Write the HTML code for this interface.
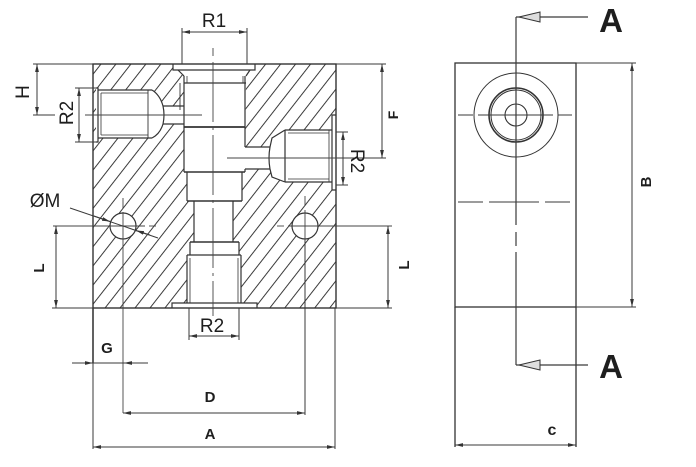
<!DOCTYPE html>
<html><head><meta charset="utf-8">
<style>
html,body{margin:0;padding:0;background:#fff;}
svg{display:block;}
text{font-family:"Liberation Sans",sans-serif;fill:#1e1e1e;}
</style></head>
<body>
<svg width="696" height="467" viewBox="0 0 696 467" xmlns="http://www.w3.org/2000/svg">
<defs>
<pattern id="h" patternUnits="userSpaceOnUse" width="11.8" height="40" patternTransform="rotate(38)">
<line x1="1" y1="-5" x2="1" y2="45" stroke="#3a3a3a" stroke-width="1"/>
</pattern>
<marker id="ar" markerUnits="userSpaceOnUse" viewBox="0 -3 10 6" refX="8" refY="0" markerWidth="10" markerHeight="6" orient="auto-start-reverse">
<path d="M0,-1.9 L8,0 L0,1.9 Z" fill="#333"/>
</marker>
</defs>

<g stroke="#333" stroke-width="1.2" fill="none">
<!-- hatched block -->
<rect x="93" y="64" width="243" height="244" fill="url(#h)" stroke="none"/>

<!-- white bores -->
<g fill="#fff" stroke="none">
<polygon points="173,64 255,64 255,70 246,76 245,172 242,172 242,201 233,201 233,242 239,242 239,255 241,255 241,303 257,303 257,308 172,308 172,303 187,303 187,255 190,255 190,242 194,242 194,201 187,201 187,172 184,172 184,76 173,70"/>
<polygon points="96,88 98,88 98,90 152,90 160,95 163,106 185,106 185,124 163,124 160,134 152,138 98,138 98,142 96,142"/>
<polygon points="336,115 332,115 332,130 285,130 272,138 270,147 244,147 244,169 270,169 272,177 285,182 332,182 332,190 336,190"/>
<circle cx="123" cy="226" r="13"/>
<circle cx="305" cy="226" r="13"/>
</g>

<!-- block outline -->
<rect x="93" y="64" width="243" height="244" stroke-width="1.4"/>

<!-- top port -->
<polyline points="173,64 173,70 255,70 255,64"/>
<line x1="178" y1="70" x2="184" y2="76"/>
<line x1="250" y1="70" x2="246" y2="76"/>
<line x1="184" y1="76" x2="184" y2="172"/>
<line x1="245" y1="76" x2="245" y2="147"/>
<line x1="245" y1="169" x2="245" y2="172"/>
<line x1="187" y1="76" x2="187" y2="83" stroke-width="0.8"/>
<line x1="243" y1="76" x2="243" y2="83" stroke-width="0.8"/>
<line x1="184" y1="83" x2="246" y2="83"/>
<line x1="184" y1="127" x2="245" y2="127" stroke-width="1.8"/>
<line x1="180" y1="83" x2="180" y2="110" stroke-width="0.9"/>
<line x1="184" y1="172" x2="245" y2="172" stroke-width="1.6"/>
<line x1="187" y1="172" x2="187" y2="201"/>
<line x1="242" y1="172" x2="242" y2="201"/>
<line x1="187" y1="201" x2="242" y2="201" stroke-width="1.5"/>
<line x1="194" y1="201" x2="194" y2="242"/>
<line x1="233" y1="201" x2="233" y2="242"/>
<line x1="190" y1="242" x2="239" y2="242" stroke-width="1.5"/>
<line x1="190" y1="242" x2="190" y2="255"/>
<line x1="239" y1="242" x2="239" y2="255"/>
<line x1="187" y1="255" x2="241" y2="255"/>
<line x1="187" y1="255" x2="187" y2="303"/>
<line x1="241" y1="255" x2="241" y2="303"/>
<line x1="190" y1="258" x2="190" y2="303" stroke-width="0.8"/>
<line x1="238" y1="258" x2="238" y2="303" stroke-width="0.8"/>
<polyline points="172,308 172,303 257,303 257,308"/>

<!-- left port -->
<polyline points="96,88 98,88 98,142 96,142"/>
<line x1="98" y1="90" x2="152" y2="90"/>
<line x1="98" y1="138" x2="152" y2="138"/>
<line x1="101" y1="93" x2="148" y2="93" stroke-width="0.8"/>
<line x1="101" y1="135" x2="148" y2="135" stroke-width="0.8"/>
<line x1="101" y1="93" x2="101" y2="135" stroke-width="0.8"/>
<line x1="148" y1="90" x2="148" y2="138" stroke-width="0.9"/>
<path d="M152,90 Q160,95 163,106 M152,138 Q160,134 163,124 M163,106 Q165,115 163,124"/>
<line x1="163" y1="106" x2="184" y2="106"/>
<line x1="163" y1="124" x2="184" y2="124"/>

<!-- right port -->
<polyline points="336,115 332,115 332,190 336,190"/>
<line x1="285" y1="130" x2="332" y2="130"/>
<line x1="285" y1="182" x2="332" y2="182"/>
<line x1="288" y1="133" x2="329" y2="133" stroke-width="0.8"/>
<line x1="288" y1="179" x2="329" y2="179" stroke-width="0.8"/>
<line x1="285" y1="130" x2="285" y2="182"/>
<line x1="329" y1="130" x2="329" y2="182" stroke-width="0.8"/>
<path d="M285,130 L272,138 L270,147 M285,182 L272,177 L270,169 M270,147 Q268,158 270,169"/>
<line x1="245" y1="147" x2="270" y2="147"/>
<line x1="245" y1="169" x2="270" y2="169"/>

<!-- holes -->
<circle cx="123" cy="226" r="13"/>
<circle cx="305" cy="226" r="13"/>
</g>

<!-- centerlines main -->
<g stroke="#444" stroke-width="0.9" fill="none">
<line x1="213" y1="48" x2="213" y2="56"/>
<line x1="213" y1="62" x2="213" y2="316" stroke-dasharray="60,5,3,5"/>
<line x1="85" y1="115" x2="202" y2="115"/>
<line x1="227" y1="158" x2="337" y2="158"/>
<line x1="123" y1="198" x2="123" y2="208"/>
<line x1="123" y1="212" x2="123" y2="413"/>
<line x1="305" y1="196" x2="305" y2="206"/>
<line x1="305" y1="210" x2="305" y2="240"/>
<line x1="53" y1="226" x2="145" y2="226"/>
<line x1="149" y1="226" x2="156" y2="226"/>
<line x1="277" y1="226" x2="284" y2="226"/>
<line x1="288" y1="226" x2="392" y2="226"/>
</g>

<!-- dimensions -->
<g stroke="#3a3a3a" stroke-width="1" fill="none">
<!-- R1 -->
<line x1="182" y1="28" x2="182" y2="64"/>
<line x1="247" y1="28" x2="247" y2="64"/>
<line x1="182" y1="32" x2="247" y2="32" marker-start="url(#ar)" marker-end="url(#ar)"/>
<!-- top ext -->
<line x1="33" y1="64" x2="93" y2="64"/>
<line x1="336" y1="64" x2="386" y2="64"/>
<!-- H -->
<line x1="37" y1="64" x2="37" y2="115" marker-start="url(#ar)" marker-end="url(#ar)"/>
<line x1="33" y1="115" x2="55" y2="115"/>
<!-- R2 left -->
<line x1="75" y1="88" x2="96" y2="88"/>
<line x1="75" y1="142" x2="96" y2="142"/>
<line x1="79" y1="88" x2="79" y2="142" marker-start="url(#ar)" marker-end="url(#ar)"/>
<!-- R2 right -->
<line x1="336" y1="132" x2="348" y2="132"/>
<line x1="336" y1="185" x2="348" y2="185"/>
<line x1="343" y1="132" x2="343" y2="185" marker-start="url(#ar)" marker-end="url(#ar)"/>
<!-- F -->
<line x1="382" y1="64" x2="382" y2="158" marker-start="url(#ar)" marker-end="url(#ar)"/>
<line x1="337" y1="158" x2="386" y2="158"/>
<!-- bottom ext -->
<line x1="52" y1="308" x2="93" y2="308"/>
<line x1="336" y1="308" x2="392" y2="308"/>
<!-- L left -->
<line x1="56" y1="226" x2="56" y2="308" marker-start="url(#ar)" marker-end="url(#ar)"/>
<!-- L right -->
<line x1="388" y1="226" x2="388" y2="308" marker-start="url(#ar)" marker-end="url(#ar)"/>
<!-- R2 bottom -->
<line x1="189" y1="308" x2="189" y2="340"/>
<line x1="239" y1="308" x2="239" y2="340"/>
<line x1="189" y1="336" x2="239" y2="336" marker-start="url(#ar)" marker-end="url(#ar)"/>
<!-- vertical ext -->
<line x1="93" y1="308" x2="93" y2="363" stroke-width="1.6"/>
<line x1="93" y1="363" x2="93" y2="449"/>
<line x1="335" y1="308" x2="335" y2="449"/>
<line x1="305" y1="240" x2="305" y2="415"/>
<!-- G -->
<line x1="72" y1="363" x2="93" y2="363" marker-end="url(#ar)"/>
<line x1="93" y1="363" x2="124" y2="363"/>
<line x1="148" y1="363" x2="124" y2="363" marker-end="url(#ar)"/>
<!-- D -->
<line x1="123" y1="413" x2="305" y2="413" marker-start="url(#ar)" marker-end="url(#ar)"/>
<!-- A -->
<line x1="93" y1="447" x2="335" y2="447" marker-start="url(#ar)" marker-end="url(#ar)"/>
<!-- OM leader -->
<line x1="70" y1="208" x2="158" y2="238"/>
<line x1="94" y1="216" x2="110" y2="221.5" marker-end="url(#ar)"/>
<line x1="150" y1="235" x2="136" y2="230.5" marker-end="url(#ar)"/>
</g>

<!-- right view -->
<g stroke="#333" stroke-width="1.3" fill="none">
<rect x="455" y="63" width="121" height="244"/>
<line x1="455" y1="307" x2="455" y2="447"/>
<line x1="576" y1="307" x2="576" y2="447"/>
<circle cx="516" cy="115" r="42" stroke-width="1"/>
<circle cx="516" cy="115" r="27" stroke-width="1.6"/>
<circle cx="516" cy="115" r="25" stroke-width="1"/>
<circle cx="516" cy="115" r="11" stroke-width="1.1"/>
</g>
<g stroke="#3a3a3a" stroke-width="1" fill="none">
<line x1="576" y1="63" x2="636" y2="63"/>
<line x1="576" y1="307" x2="636" y2="307"/>
<line x1="632" y1="63" x2="632" y2="307" marker-start="url(#ar)" marker-end="url(#ar)"/>
<line x1="455" y1="445" x2="576" y2="445" marker-start="url(#ar)" marker-end="url(#ar)"/>
<!-- centerlines -->
<line x1="458" y1="115" x2="473" y2="115"/>
<line x1="478" y1="115" x2="553" y2="115"/>
<line x1="558" y1="115" x2="572" y2="115"/>
<line x1="458" y1="202" x2="572" y2="202" stroke-dasharray="25,6,50,6"/>
<!-- section line -->
<line x1="516" y1="17" x2="516" y2="225" stroke-width="1.2"/>
<line x1="516" y1="232" x2="516" y2="246" stroke-width="1.2"/>
<line x1="516" y1="252" x2="516" y2="365" stroke-width="1.2"/>
<line x1="516" y1="17" x2="588" y2="17" stroke-width="1.2"/>
<line x1="516" y1="365" x2="588" y2="365" stroke-width="1.2"/>
<polygon points="519,17 540,12 540,22" fill="#ddd" stroke="#333"/>
<polygon points="519,365 540,360 540,370" fill="#ddd" stroke="#333"/>
</g>

<!-- labels -->
<text x="214" y="27" font-size="19" text-anchor="middle">R1</text>
<text x="212" y="332" font-size="19" text-anchor="middle">R2</text>
<text x="45" y="207" font-size="19" text-anchor="middle">ØM</text>
<text x="107" y="353" font-size="15" font-weight="bold" text-anchor="middle">G</text>
<text x="210" y="402" font-size="15" font-weight="bold" text-anchor="middle">D</text>
<text x="210" y="439" font-size="15" font-weight="bold" text-anchor="middle">A</text>
<text x="552" y="435" font-size="16" font-weight="bold" text-anchor="middle">c</text>
<text x="611" y="32" font-size="33" font-weight="bold" text-anchor="middle">A</text>
<text x="611" y="378" font-size="33" font-weight="bold" text-anchor="middle">A</text>
<text transform="translate(29,92) rotate(-90)" font-size="19" text-anchor="middle">H</text>
<text transform="translate(73,113) rotate(-90)" font-size="19" text-anchor="middle">R2</text>
<text transform="translate(351,161) rotate(90)" font-size="19" text-anchor="middle">R2</text>
<text transform="translate(398,115) rotate(-90)" font-size="14" font-weight="bold" text-anchor="middle">F</text>
<text transform="translate(44,268) rotate(-90)" font-size="15" font-weight="bold" text-anchor="middle">L</text>
<text transform="translate(409,265) rotate(-90)" font-size="15" font-weight="bold" text-anchor="middle">L</text>
<text transform="translate(651,182) rotate(-90)" font-size="15" font-weight="bold" text-anchor="middle">B</text>
</svg>
</body></html>
